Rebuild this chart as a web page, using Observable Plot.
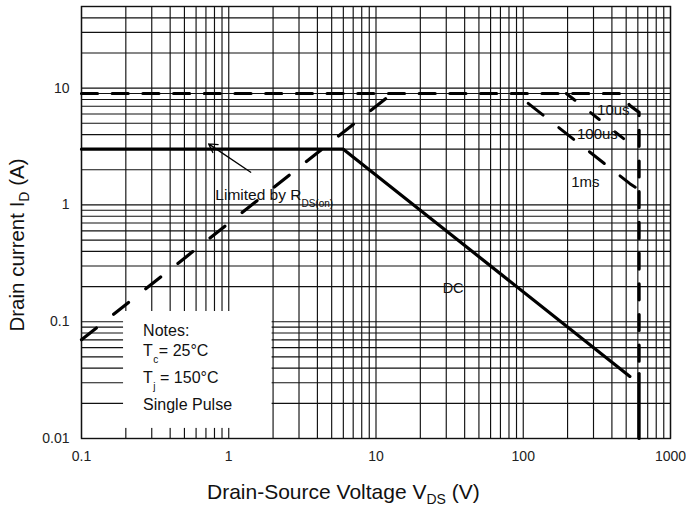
<!DOCTYPE html>
<html>
<head>
<meta charset="utf-8">
<script src="https://cdn.jsdelivr.net/npm/d3@7"></script>
<script src="https://cdn.jsdelivr.net/npm/@observablehq/plot@0.6"></script>
<style>
  html, body { margin: 0; padding: 0; background: #fff; }
  #chart svg { display: block; }
</style>
</head>
<body>
<div id="chart"></div>
<script>
// ---- axis ticks / grid ----
const xTicks = [0.1, 1, 10, 100, 1000];
const yTicks = [0.01, 0.1, 1, 10];
const xGrid = [0.1,0.2,0.3,0.4,0.5,0.6,0.7,0.8,0.9,1,2,3,4,5,6,7,8,9,10,20,30,40,50,60,70,80,90,100,200,300,400,500,600,700,800,900,1000];
const yGrid = [0.01,0.02,0.03,0.04,0.05,0.06,0.07,0.08,0.09,0.1,0.2,0.3,0.4,0.5,0.6,0.7,0.8,0.9,1,2,3,4,5,6,7,8,9,10,20,30,40,50];

// ---- SOA curves: [V_DS, I_D] ----
const rdsLimit  = [[0.1, 0.07], [12.9, 9]];
const pulse10us = [[0.1, 9], [450, 9], [530, 7.1], [612, 6.2], [612, 0.036]];
const pulse100us = [[196, 9], [530, 3.35], [612, 2.9]];
const pulse1ms  = [[108, 7.4], [530, 1.52], [612, 1.35]];
const dcCurve   = [[0.1, 3], [6, 3], [530, 0.034]];
const dcVertical = [[612, 0.036], [612, 0.01]];

// ---- annotations ----
const curveLabels = ["10us", "100us", "1ms", "DC"];
const curveLabelV = [409, 319, 264, 33.4];
const curveLabelI = [6.43, 4.0, 1.56, 0.192];
const arrowFrom = [1.41, 1.905];
const arrowTo = [0.73, 3.33];
const rdsLabelAt = [0.817, 1.09];
const notesBox = [[0.193, 1.97, 0.0122, 0.1223]];
const notesAt = 0.264;
const notesBaselines = [0.0747, 0.0503, 0.0296, 0.0174];

const labelRows = curveLabels.map((t, k) => ({t, v: curveLabelV[k], i: curveLabelI[k]}));

const dashedStyle = {x: d => d[0], y: d => d[1], stroke: "#000", fill: "none"};

const chart = Plot.plot({
  width: 686,
  height: 508,
  marginLeft: 81,
  marginRight: 16,
  marginTop: 6,
  marginBottom: 70,
  style: {fontFamily: "'Liberation Sans', Arial, sans-serif", fontSize: "14px", color: "#222", background: "#fff"},
  x: {type: "log", domain: [0.1, 1000], ticks: xTicks, tickFormat: d => String(d), tickSize: 0, tickPadding: 13, label: null},
  y: {type: "log", domain: [0.01, 50], ticks: yTicks, tickFormat: d => String(d), tickSize: 0, tickPadding: 12, label: null},
  marks: [
    Plot.ruleX(xGrid, {x: d => d, stroke: "#111", strokeWidth: 1.15}),
    Plot.ruleY(yGrid, {y: d => d, stroke: "#111", strokeWidth: 1.15}),
    Plot.rect(notesBox, {x1: d => d[0], x2: d => d[1], y1: d => d[2], y2: d => d[3], fill: "#fff"}),
    Plot.frame({stroke: "#111", strokeWidth: 1.4}),
    Plot.line(rdsLimit, {...dashedStyle, strokeWidth: 3.2, strokeDasharray: "19,22"}),
    Plot.line(pulse10us, {...dashedStyle, strokeWidth: 3.2, strokeDasharray: "16,14.7"}),
    Plot.line(pulse100us, {...dashedStyle, strokeWidth: 3, strokeDasharray: "11,20"}),
    Plot.line(pulse1ms, {...dashedStyle, strokeWidth: 3, strokeDasharray: "19,20"}),
    Plot.line(dcCurve, {x: d => d[0], y: d => d[1], stroke: "#000", strokeWidth: 3.2}),
    Plot.line(dcVertical, {x: d => d[0], y: d => d[1], stroke: "#000", strokeWidth: 3.2}),
    Plot.arrow([[arrowFrom, arrowTo]], {x1: d => d[0][0], y1: d => d[0][1], x2: d => d[1][0], y2: d => d[1][1], stroke: "#000", strokeWidth: 1.3, headLength: 11}),
    Plot.text(labelRows, {x: "v", y: "i", text: "t", fontSize: d => d.t === "DC" ? 14.5 : 15, fill: "#111", textAnchor: "middle"})
  ]
});

document.getElementById("chart").appendChild(chart);

const sx = chart.scale("x"), sy = chart.scale("y");
const svg = d3.select(chart);
const font = "'Liberation Sans', Arial, sans-serif";

function subText(g, x, y, parts, size, opts = {}) {
  const t = g.append("text").attr("x", x).attr("y", y)
    .attr("font-family", font).attr("font-size", size).attr("fill", "#111")
    .attr("text-anchor", opts.anchor || "start");
  if (opts.transform) t.attr("transform", opts.transform);
  parts.forEach(p => {
    const s = t.append("tspan").text(p.text);
    if (p.size) s.attr("font-size", p.size);
    if (p.dy) s.attr("dy", p.dy);
    if (p.dx) s.attr("dx", p.dx);
  });
  return t;
}

const ann = svg.append("g");

// Limited by R_DS(on)
subText(ann, sx.apply(rdsLabelAt[0]), sy.apply(rdsLabelAt[1]), [
  {text: "Limited by R"},
  {text: "DS(on)", size: 10, dy: 7}
], 15.5);

// Notes
const nx = sx.apply(notesAt);
subText(ann, nx, sy.apply(notesBaselines[0]), [{text: "Notes:"}], 16);
subText(ann, nx, sy.apply(notesBaselines[1]), [
  {text: "T"}, {text: "c", size: 10, dy: 7, dx: 0.5}, {text: "= 25°C", dy: -7, dx: 0.5}
], 16);
subText(ann, nx, sy.apply(notesBaselines[2]), [
  {text: "T"}, {text: "j", size: 10, dy: 7, dx: 0.5}, {text: " = 150°C", dy: -7}
], 16);
subText(ann, nx, sy.apply(notesBaselines[3]), [{text: "Single Pulse"}], 16);

// Axis titles
subText(ann, 207, 499, [
  {text: "Drain-Source Voltage V"}, {text: "DS", size: 14, dy: 5}, {text: " (V)", dy: -5}
], 21);
subText(ann, 0, 0, [
  {text: "Drain current I"}, {text: "D", size: 14, dy: 5}, {text: " (A)", dy: -5}
], 20.5, {anchor: "middle", transform: "translate(24,245) rotate(-90)"});
</script>
</body>
</html>
